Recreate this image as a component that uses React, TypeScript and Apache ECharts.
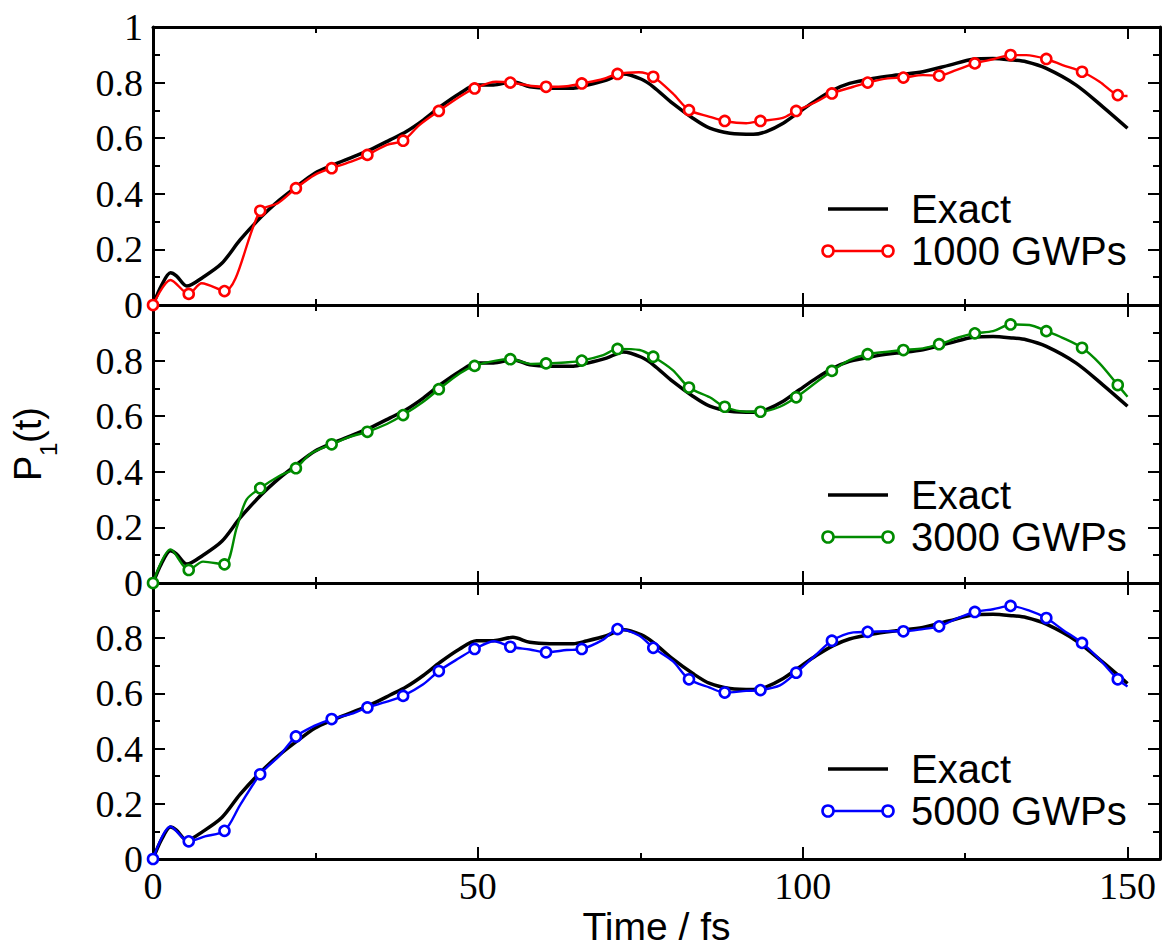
import React, { useEffect, useRef } from "react";
import * as echarts from "echarts";

// Exact population curve (same in every panel)
const exactT = [0, 1.3, 2.7, 3.6, 5.2, 7.7, 10.6, 13.4, 16.7, 19.5, 22.1, 24.9, 27.7, 30.8, 33.4, 36.5, 39.0, 41.6, 44.2, 47.2, 49.8, 52.4, 55.4, 58.0, 61.1, 64.7, 66.7, 69.8, 72.4, 75.2, 77.0, 80.0, 83.1, 85.7, 88.8, 92.4, 94.4, 97.0, 99.5, 102.1, 104.7, 107.2, 110.8, 114.4, 118.5, 122.6, 126.2, 129.3, 132.4, 134.4, 137.5, 142.1, 146.2, 150];
const exactP = [0, 0.07, 0.116, 0.105, 0.068, 0.1, 0.15, 0.234, 0.318, 0.378, 0.426, 0.474, 0.504, 0.533, 0.558, 0.594, 0.624, 0.665, 0.713, 0.761, 0.791, 0.791, 0.803, 0.785, 0.78, 0.78, 0.79, 0.809, 0.831, 0.812, 0.785, 0.725, 0.672, 0.636, 0.618, 0.614, 0.624, 0.654, 0.695, 0.737, 0.773, 0.797, 0.815, 0.827, 0.839, 0.863, 0.884, 0.887, 0.881, 0.875, 0.851, 0.791, 0.713, 0.636];

// times of the open-circle markers
const markerT = [0, 5.5, 11, 16.5, 22, 27.5, 33, 38.5, 44, 49.5, 55, 60.5, 66, 71.5, 77, 82.5, 88, 93.5, 99, 104.5, 110, 115.5, 121, 126.5, 132, 137.5, 143, 148.5];

// 1000 GWPs
const gwp1000MarkP = [0, 0.04, 0.05, 0.339, 0.42, 0.492, 0.54, 0.591, 0.698, 0.779, 0.8, 0.785, 0.797, 0.831, 0.821, 0.701, 0.662, 0.662, 0.698, 0.761, 0.8, 0.818, 0.825, 0.869, 0.899, 0.885, 0.839, 0.755];
const gwp1000MidT = [2.7, 7.5, 19.2, 24.9, 30.8, 36, 41, 47.2, 52.8, 58.3, 63.7, 69.3, 74.8, 80, 85.7, 91.3, 96.8, 102.1, 107.8, 113.1, 118.5, 123.6, 129.3, 134.4, 140, 145.7, 150];
const gwp1000MidP = [0.09, 0.078, 0.366, 0.468, 0.518, 0.576, 0.647, 0.749, 0.803, 0.788, 0.787, 0.813, 0.837, 0.761, 0.677, 0.654, 0.672, 0.731, 0.785, 0.815, 0.827, 0.845, 0.884, 0.899, 0.863, 0.803, 0.752];

// 3000 GWPs
const gwp3000MarkP = [0, 0.047, 0.067, 0.341, 0.413, 0.499, 0.544, 0.604, 0.697, 0.781, 0.805, 0.79, 0.8, 0.842, 0.814, 0.703, 0.634, 0.616, 0.668, 0.763, 0.823, 0.838, 0.859, 0.898, 0.93, 0.906, 0.846, 0.712];
const gwp3000MidT = [2.7, 7.7, 12.9, 14.4, 19.5, 24.2, 30.3, 36, 41.6, 47.2, 52.8, 58.3, 63.9, 69.3, 74.9, 80, 85.7, 91.3, 96.5, 102.1, 107.2, 113.1, 118.5, 124.1, 129.3, 134.9, 140, 145.7, 150];
const gwp3000MidP = [0.121, 0.077, 0.2, 0.3, 0.386, 0.464, 0.526, 0.572, 0.652, 0.754, 0.8, 0.788, 0.794, 0.82, 0.838, 0.766, 0.668, 0.616, 0.634, 0.722, 0.802, 0.832, 0.844, 0.884, 0.906, 0.928, 0.882, 0.79, 0.67];

// 5000 GWPs
const gwp5000MarkP = [0, 0.064, 0.102, 0.307, 0.444, 0.507, 0.549, 0.591, 0.681, 0.761, 0.769, 0.749, 0.761, 0.833, 0.765, 0.651, 0.603, 0.612, 0.675, 0.791, 0.823, 0.825, 0.843, 0.895, 0.917, 0.873, 0.783, 0.651];
const gwp5000MidT = [2.7, 8, 13.4, 19.5, 24.9, 30.8, 36, 41.6, 47.2, 52.5, 58, 63.7, 69.3, 74.8, 80, 85.7, 91.3, 96.5, 102.1, 107.8, 113.1, 118.5, 123.9, 129.3, 134.9, 140, 145.7, 150];
const gwp5000MidP = [0.118, 0.082, 0.195, 0.375, 0.483, 0.528, 0.57, 0.633, 0.729, 0.789, 0.759, 0.757, 0.795, 0.81, 0.717, 0.621, 0.609, 0.629, 0.741, 0.821, 0.825, 0.833, 0.873, 0.905, 0.9, 0.831, 0.723, 0.625];

const panelNames = ["1000 GWPs", "3000 GWPs", "5000 GWPs"];
const panelColors = ["#ff0000", "#008b00", "#0000ff"];

const SERIF = "'Liberation Serif', 'Times New Roman', serif";
const SANS = "'Liberation Sans', Arial, Helvetica, sans-serif";

function buildExact() {
  return exactT.map((t, i) => [t, exactP[i]]);
}

function buildGwp(markP: number[], midT: number[], midP: number[]) {
  const pts: any[] = markerT.map((t, i) => ({ value: [t, markP[i]], symbol: "circle" }));
  midT.forEach((t, i) => pts.push({ value: [t, midP[i]], symbol: "none" }));
  pts.sort((a, b) => a.value[0] - b.value[0]);
  return pts;
}

const fmt = (v: number) => String(parseFloat(Number(v).toFixed(1)));

export default function App() {
  const ref = useRef<HTMLDivElement>(null);

  useEffect(() => {
    if (!ref.current) return;
    const chart = echarts.init(ref.current, null, { renderer: "svg" });

    const LEFT = 153;
    const WIDTH = 1007;
    const HEIGHT = 278;
    const tops = [27, 305, 583];
    const gwpData = [
      buildGwp(gwp1000MarkP, gwp1000MidT, gwp1000MidP),
      buildGwp(gwp3000MarkP, gwp3000MidT, gwp3000MidP),
      buildGwp(gwp5000MarkP, gwp5000MidT, gwp5000MidP),
    ];
    const exact = buildExact();

    const grid: any[] = [];
    const xAxis: any[] = [];
    const yAxis: any[] = [];
    const series: any[] = [];

    const axisLine = { show: true, onZero: false, lineStyle: { color: "#000", width: 3 } };

    tops.forEach((top, i) => {
      grid.push({ left: LEFT, top, width: WIDTH, height: HEIGHT, containLabel: false });
      const xBase = {
        type: "value",
        gridIndex: i,
        min: 0,
        max: 155,
        interval: 50,
        axisLine,
        axisTick: { show: true, inside: true, length: 12, lineStyle: { color: "#000", width: 2 } },
        minorTick: { show: true, splitNumber: 2, length: 6, lineStyle: { color: "#000", width: 2 } },
        splitLine: { show: false },
        minorSplitLine: { show: false },
      };
      xAxis.push({
        ...xBase,
        position: "bottom",
        axisLabel: {
          show: i === 2,
          fontFamily: SERIF,
          fontSize: 38,
          color: "#000",
          margin: 8,
          formatter: (v: number) => String(v),
        },
        ...(i === 2
          ? {
              name: "Time / fs",
              nameLocation: "middle",
              nameGap: 48,
              nameTextStyle: { fontFamily: SANS, fontSize: 39, color: "#000" },
            }
          : {}),
      });
      xAxis.push({ ...xBase, position: "top", axisLabel: { show: false } });

      const yBase = {
        type: "value",
        gridIndex: i,
        min: 0,
        max: 1,
        interval: 0.2,
        axisLine,
        axisTick: { show: true, inside: true, length: 12, lineStyle: { color: "#000", width: 2 } },
        minorTick: { show: true, splitNumber: 2, length: 7, lineStyle: { color: "#000", width: 2 } },
        splitLine: { show: false },
        minorSplitLine: { show: false },
      };
      yAxis.push({
        ...yBase,
        position: "left",
        axisLabel: {
          show: true,
          fontFamily: SERIF,
          fontSize: 38,
          color: "#000",
          margin: 10,
          formatter: (v: number) => (i > 0 && v >= 0.999 ? "" : fmt(v)),
        },
      });
      yAxis.push({ ...yBase, position: "right", axisLabel: { show: false } });

      series.push({
        name: "Exact",
        type: "line",
        xAxisIndex: 2 * i,
        yAxisIndex: 2 * i,
        data: exact,
        smooth: 0.3,
        symbol: "none",
        clip: false,
        lineStyle: { color: "#000", width: 3.5 },
        z: 2,
      });
      series.push({
        name: panelNames[i],
        type: "line",
        xAxisIndex: 2 * i,
        yAxisIndex: 2 * i,
        data: gwpData[i],
        smooth: 0.3,
        symbol: "circle",
        symbolSize: 10,
        showSymbol: true,
        clip: false,
        itemStyle: { color: "#fff", borderColor: panelColors[i], borderWidth: 2.6 },
        lineStyle: { color: panelColors[i], width: 2.4 },
        z: 3,
      });
    });

    // legends (drawn as graphic elements)
    const legendY = [
      [209, 251],
      [495, 537],
      [769, 811],
    ];
    const graphic: any[] = [];
    legendY.forEach(([yb, yc], i) => {
      graphic.push({
        type: "line",
        shape: { x1: 828, y1: yb, x2: 888, y2: yb },
        style: { stroke: "#000", lineWidth: 3.5 },
        z: 10,
      });
      graphic.push({
        type: "text",
        x: 911,
        y: yb,
        style: { text: "Exact", fontFamily: SANS, fontSize: 40, fill: "#000", verticalAlign: "middle", align: "left" },
        z: 10,
      });
      graphic.push({
        type: "line",
        shape: { x1: 828, y1: yc, x2: 888, y2: yc },
        style: { stroke: panelColors[i], lineWidth: 2.4 },
        z: 10,
      });
      [828, 888].forEach((cx) =>
        graphic.push({
          type: "circle",
          shape: { cx, cy: yc, r: 5.5 },
          style: { fill: "#fff", stroke: panelColors[i], lineWidth: 2.6 },
          z: 11,
        })
      );
      graphic.push({
        type: "text",
        x: 911,
        y: yc,
        style: { text: panelNames[i], fontFamily: SANS, fontSize: 40, fill: "#000", verticalAlign: "middle", align: "left" },
        z: 10,
      });
    });

    // y axis title P_1(t), rotated
    graphic.push({
      type: "group",
      x: 28,
      y: 444,
      rotation: Math.PI / 2,
      children: [
        {
          type: "text",
          x: -37,
          y: 0,
          style: { text: "P", fontFamily: SANS, fontSize: 38, fill: "#000", verticalAlign: "middle", align: "left" },
        },
        {
          type: "text",
          x: -12,
          y: 20,
          style: { text: "1", fontFamily: SANS, fontSize: 24, fill: "#000", verticalAlign: "middle", align: "left" },
        },
        {
          type: "text",
          x: 1,
          y: 0,
          style: { text: "(t)", fontFamily: SANS, fontSize: 38, fill: "#000", verticalAlign: "middle", align: "left" },
        },
      ],
    });

    chart.setOption({
      animation: false,
      backgroundColor: "#fff",
      grid,
      xAxis,
      yAxis,
      series,
      graphic,
    });

    return () => chart.dispose();
  }, []);

  return (
    <div
      ref={ref}
      style={{ position: "fixed", left: 0, top: 0, width: 1168, height: 947, background: "#fff" }}
    />
  );
}
